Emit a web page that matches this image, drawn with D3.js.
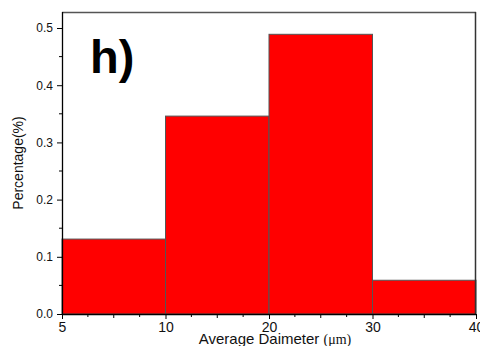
<!DOCTYPE html>
<html>
<head>
<meta charset="utf-8">
<script src="https://cdn.jsdelivr.net/npm/d3@7"></script>
<style>
  html, body { margin: 0; padding: 0; background: #fff; }
  svg { display: block; font-family: Arial, "Liberation Sans", sans-serif; }
</style>
</head>
<body>
<svg id="chart" width="480" height="346"></svg>
<script>
// bin edges (equally spaced on the axis) and bar heights
const binEdges = ['5', '10', '20', '30', '40'];
const percentages = [0.131, 0.346, 0.489, 0.059];
const yTicks = [0.0, 0.1, 0.2, 0.3, 0.4, 0.5];

const width = 480;
const height = 346;
const margin = { top: 12, right: 4, bottom: 32, left: 62 };
const plotW = width - margin.left - margin.right;
const plotH = height - margin.top - margin.bottom;

const svg = d3.select('#chart');
const g = svg.append('g')
  .attr('transform', `translate(${margin.left},${margin.top})`);

const xScale = d3.scalePoint()
  .domain(binEdges)
  .range([0, plotW]);

const yScale = d3.scaleLinear()
  .domain([0, 0.528])
  .range([plotH, 0]);

const bins = percentages.map((v, i) => ({ x0: binEdges[i], x1: binEdges[i + 1], v: v }));

// bars
g.selectAll('rect.bar')
  .data(bins)
  .enter().append('rect')
  .attr('class', 'bar')
  .attr('x', d => xScale(d.x0))
  .attr('width', d => xScale(d.x1) - xScale(d.x0))
  .attr('y', d => yScale(d.v))
  .attr('height', d => plotH - yScale(d.v))
  .attr('fill', '#ff0000')
  .attr('stroke', '#555')
  .attr('stroke-width', 1);

// frame on top and right
g.append('line')
  .attr('x1', 0).attr('x2', plotW)
  .attr('y1', 0.5).attr('y2', 0.5)
  .attr('stroke', '#555').attr('stroke-width', 1.3);
g.append('line')
  .attr('x1', plotW - 0.5).attr('x2', plotW - 0.5)
  .attr('y1', 0).attr('y2', plotH)
  .attr('stroke', '#333').attr('stroke-width', 1.5);

// y axis
const yAxis = d3.axisLeft(yScale)
  .tickValues(yTicks)
  .tickFormat(d3.format('.1f'))
  .tickSize(5)
  .tickPadding(4);

const yG = g.append('g').call(yAxis);
yG.select('.domain').attr('stroke', '#000').attr('stroke-width', 1.3)
  .attr('d', `M0.5,${plotH}V0`);
yG.selectAll('text').attr('font-size', 12).attr('fill', '#111');

// minor y ticks
const yMinor = d3.range(0.05, 0.5, 0.1);
g.selectAll('line.ymin')
  .data(yMinor)
  .enter().append('line')
  .attr('x1', -3).attr('x2', 0)
  .attr('y1', d => yScale(d)).attr('y2', d => yScale(d))
  .attr('stroke', '#000');

// x axis
const xAxis = d3.axisBottom(xScale)
  .tickSize(5)
  .tickPadding(3);

const xG = g.append('g')
  .attr('transform', `translate(0,${plotH})`)
  .call(xAxis);
xG.select('.domain').attr('stroke', '#000').attr('stroke-width', 1.3)
  .attr('d', `M0,0.5H${plotW}`);
xG.selectAll('text').attr('font-size', 14).attr('fill', '#111');

// minor x ticks between bin edges
const xMinor = [];
for (let i = 0; i < binEdges.length - 1; i++) {
  const a = xScale(binEdges[i]);
  const b = xScale(binEdges[i + 1]);
  [0.25, 0.5, 0.75].forEach(f => xMinor.push({ x: a + (b - a) * f, len: f === 0.5 ? 4 : 3 }));
}
g.selectAll('line.xmin')
  .data(xMinor)
  .enter().append('line')
  .attr('x1', d => d.x).attr('x2', d => d.x)
  .attr('y1', plotH).attr('y2', d => plotH + d.len)
  .attr('stroke', '#000');

// panel label
g.append('text')
  .attr('x', 28)
  .attr('y', 61)
  .attr('font-size', 47)
  .attr('font-weight', 'bold')
  .attr('fill', '#000')
  .text('h)');

// axis titles
svg.append('text')
  .attr('transform', `translate(23,${margin.top + plotH / 2}) rotate(-90)`)
  .attr('text-anchor', 'middle')
  .attr('font-size', 14)
  .attr('fill', '#111')
  .text('Percentage(%)');

const xt = svg.append('text')
  .attr('x', 275)
  .attr('y', 344)
  .attr('text-anchor', 'middle')
  .attr('font-size', 15)
  .attr('fill', '#111');
xt.append('tspan').text('Average Daimeter ');
xt.append('tspan')
  .attr('font-family', '"Liberation Serif", "DejaVu Serif", serif')
  .attr('font-size', 14)
  .text('(μm)');
</script>
</body>
</html>
